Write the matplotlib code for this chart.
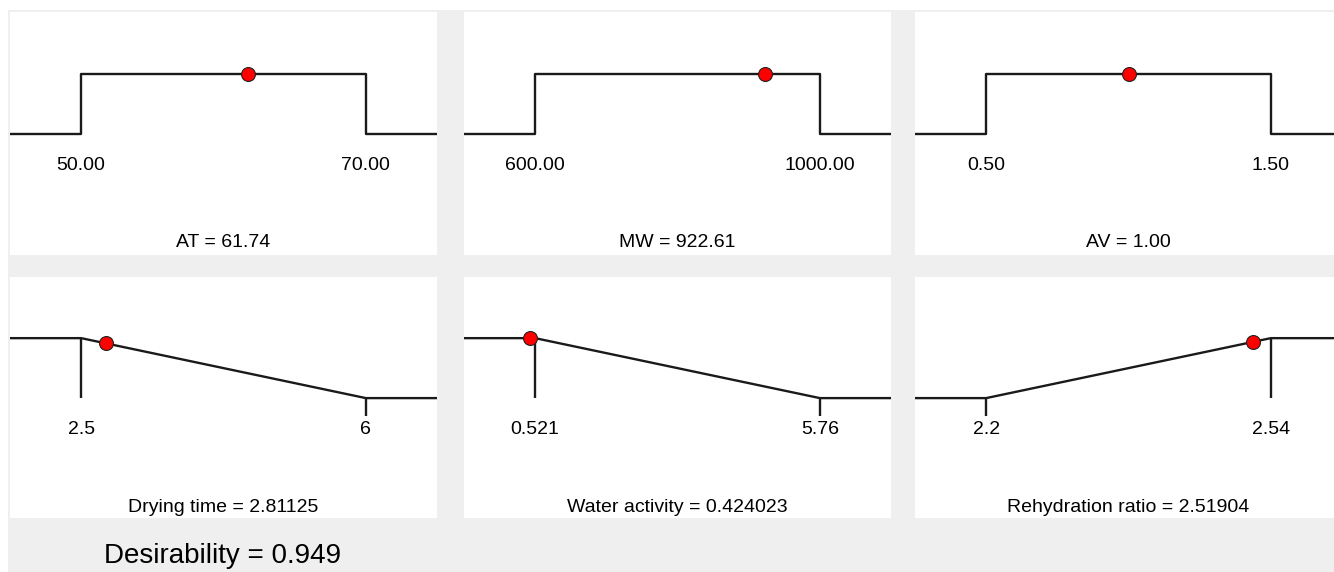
import matplotlib
matplotlib.use("Agg")
import matplotlib.pyplot as plt

plt.rcParams['font.family'] = ['Liberation Sans', 'DejaVu Sans']

# Factors: name, lower bound, upper bound, optimum setting
factor_names = ['AT', 'MW', 'AV']
factor_low = [50.0, 600.0, 0.5]
factor_high = [70.0, 1000.0, 1.5]
factor_value = [61.74, 922.61, 1.00]

# Responses: name, lower, upper, predicted value, goal
resp_names = ['Drying time', 'Water activity', 'Rehydration ratio']
resp_low = [2.5, 0.521, 2.2]
resp_high = [6, 5.76, 2.54]
resp_low_lbl = ['2.5', '0.521', '2.2']
resp_high_lbl = ['6', '5.76', '2.54']
resp_value = [2.81125, 0.424023, 2.51904]
resp_value_lbl = ['2.81125', '0.424023', '2.51904']
resp_goal = ['min', 'min', 'max']

desirability = 0.949

W, H = 1334, 572
fig = plt.figure(figsize=(W / 100, H / 100), dpi=100, facecolor='white')

# light grey backdrop behind the panels
bg = fig.add_axes([8 / W, 0, 1 - 8 / W, (H - 10) / H], zorder=-10)
bg.set_facecolor('#efefef')
bg.set_xticks([])
bg.set_yticks([])
for s in bg.spines.values():
    s.set_visible(False)

col_x = [10, 464, 915]
pw = 427
rows = [(12, 255), (277, 518)]
LINE = dict(color='#1a1a1a', lw=1.7, solid_capstyle='butt')
MARK = dict(marker='o', ms=10, mfc='#ff0000', mec='#222222', mew=0.8, zorder=5)
FS = 14


def make_ax(x0, top, bottom):
    ax = fig.add_axes([x0 / W, 1 - bottom / H, pw / W, (bottom - top) / H], zorder=1)
    ax.set_facecolor('white')
    for s in ax.spines.values():
        s.set_visible(False)
    ax.set_xticks([])
    ax.set_yticks([])
    ax.set_ylim(-2, 2.02)
    return ax


def limits(lo, hi):
    pad = 0.25 * (hi - lo)
    return lo - pad, hi + pad


# top row: factor settings
for i, name in enumerate(factor_names):
    ax = make_ax(col_x[i], *rows[0])
    lo, hi = factor_low[i], factor_high[i]
    x0, x1 = limits(lo, hi)
    ax.set_xlim(x0, x1)
    ax.plot([x0, lo, lo, hi, hi, x1], [0, 0, 1, 1, 0, 0], **LINE)
    ax.plot([factor_value[i]], [1], **MARK)
    ax.text(lo, -0.52, f'{lo:.2f}', ha='center', va='center', fontsize=FS)
    ax.text(hi, -0.52, f'{hi:.2f}', ha='center', va='center', fontsize=FS)
    ax.text((x0 + x1) / 2, -1.8, f'{name} = {factor_value[i]:.2f}',
            ha='center', va='center', fontsize=FS)

# bottom row: response desirability
for i, name in enumerate(resp_names):
    ax = make_ax(col_x[i], *rows[1])
    lo, hi = resp_low[i], resp_high[i]
    x0, x1 = limits(lo, hi)
    ax.set_xlim(x0, x1)
    v = resp_value[i]
    if resp_goal[i] == 'min':
        ax.plot([x0, lo, hi, x1], [1, 1, 0, 0], **LINE)
        ax.plot([lo, lo], [1, 0], **LINE)
        ax.plot([hi, hi], [0, -0.3], **LINE)
        d = min(1, max(0, (hi - v) / (hi - lo)))
    else:
        ax.plot([x0, lo, hi, x1], [0, 0, 1, 1], **LINE)
        ax.plot([hi, hi], [1, 0], **LINE)
        ax.plot([lo, lo], [0, -0.3], **LINE)
        d = min(1, max(0, (v - lo) / (hi - lo)))
    ax.plot([v], [d], **MARK)
    ax.text(lo, -0.52, resp_low_lbl[i], ha='center', va='center', fontsize=FS)
    ax.text(hi, -0.52, resp_high_lbl[i], ha='center', va='center', fontsize=FS)
    ax.text((x0 + x1) / 2, -1.82, f'{name} = {resp_value_lbl[i]}',
            ha='center', va='center', fontsize=FS)

fig.text(223 / W, 1 - 556 / H, f'Desirability = {desirability:.3f}',
         ha='center', va='center', fontsize=20)

fig.savefig('out.png', dpi=100, facecolor=fig.get_facecolor())
